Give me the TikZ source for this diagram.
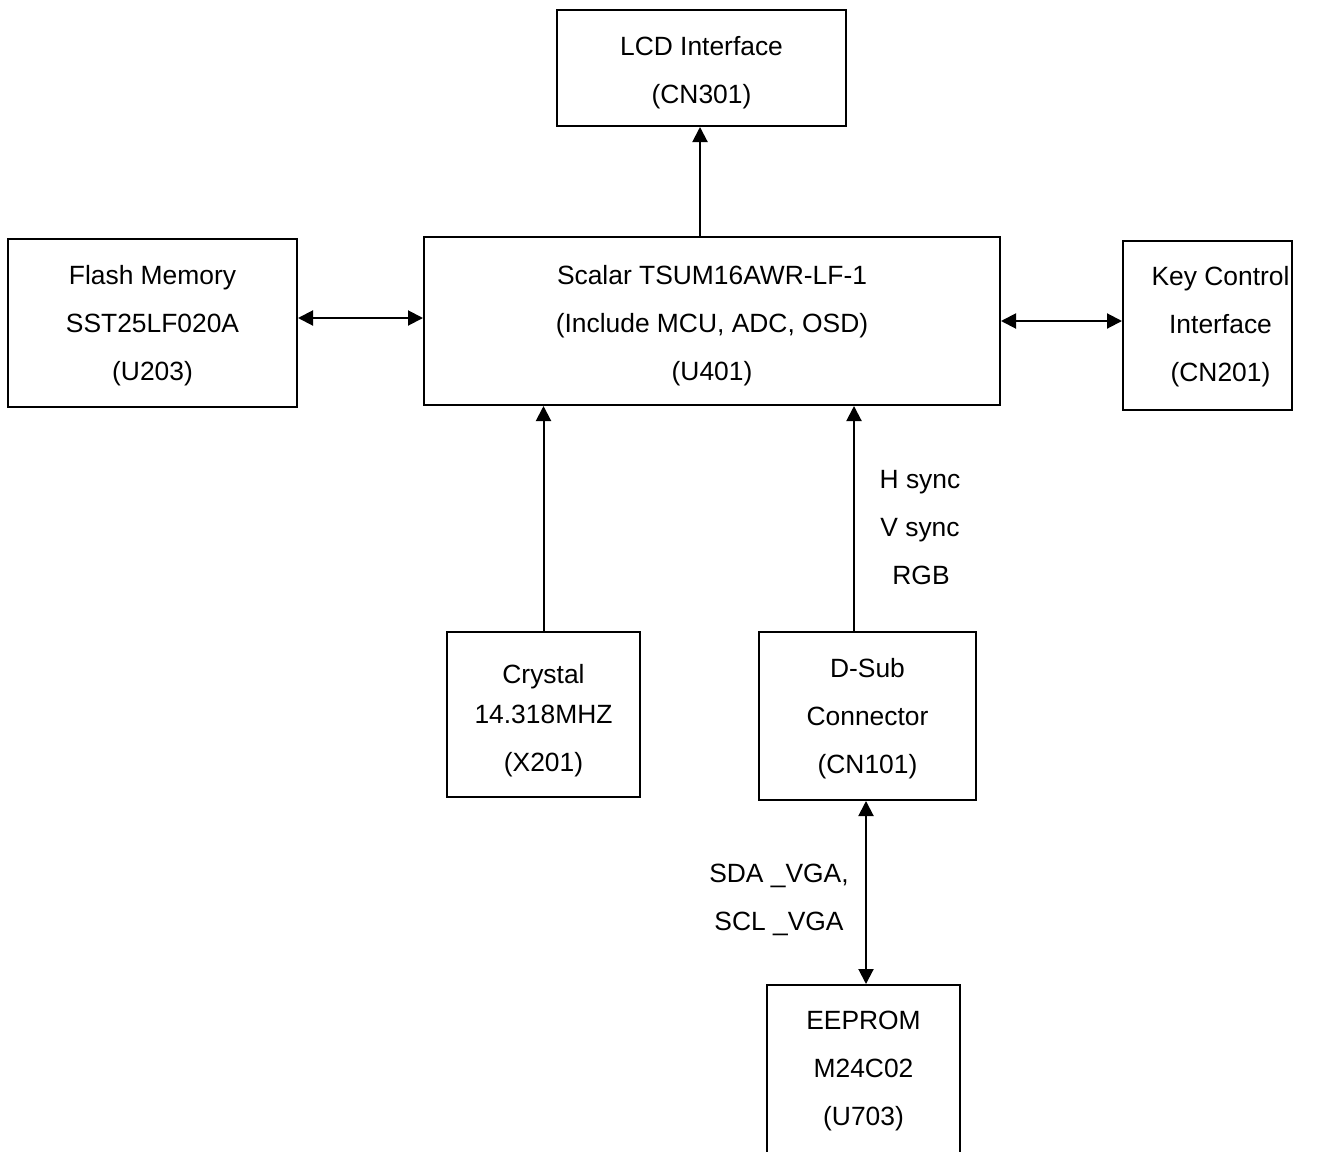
\documentclass[tikz,border=0pt]{standalone}
\usepackage{fontspec}
\setmainfont{Liberation Sans}
\usetikzlibrary{arrows.meta}
\begin{document}
\begin{tikzpicture}[x=1pt,y=-1pt,
  box/.style={draw, line width=2pt, inner sep=0pt},
  lbl/.style={inner sep=0pt, align=center, font=\fontsize{26.4}{48}\selectfont},
  arr/.style={line width=2pt, -{Triangle[length=15pt,width=15pt]}},
  darr/.style={line width=2pt, {Triangle[length=15pt,width=15pt]}-{Triangle[length=15pt,width=15pt]}}]
\useasboundingbox (0,0) rectangle (1321,1151);
\node[box, minimum width=289, minimum height=116] (lcd) at (701.5,68) {};
\node[lbl] (lcdtext) at (701.5,73) {LCD Interface\\(CN301)};
\node[box, minimum width=576, minimum height=168] (scalar) at (712,321) {};
\node[lbl] (scalartext) at (712,326) {Scalar TSUM16AWR-LF-1\\(Include MCU, ADC, OSD)\\(U401)};
\node[box, minimum width=289, minimum height=168] (flash) at (152.5,323) {};
\node[lbl] (flashtext) at (152.5,326) {Flash Memory\\SST25LF020A\\(U203)};
\node[box, minimum width=169, minimum height=169] (key) at (1207.5,325.5) {};
\node[lbl] (keytext) at (1220.5,327) {Key Control\\Interface\\(CN201)};
\node[box, minimum width=193, minimum height=165] (crystal) at (543.5,714.5) {};
\node[lbl] (crystaltext) at (543.5,720.5) {Crystal\\[-8pt]14.318MHZ\\(X201)};
\node[box, minimum width=217, minimum height=168] (dsub) at (867.5,716) {};
\node[lbl] (dsubtext) at (867.5,719) {D-Sub\\Connector\\(CN101)};
\node[box, minimum width=193, minimum height=190] (eeprom) at (863.5,1080) {};
\node[lbl] (eetext) at (863.5,1071) {EEPROM\\M24C02\\(U703)};
\node[lbl] (sync) at (920,528) {H sync\\V sync\\\hspace*{2pt}RGB};
\node[lbl] (sda) at (779,900) {SDA \_VGA,\\SCL \_VGA};
\draw[arr] (scalar.north -| lcd.south) ++(-1.5,0) coordinate (s1) -- (s1 |- lcd.south);
\draw[darr] ([yshift=5]flash.east) coordinate (f1) -- (f1 -| scalar.west);
\draw[darr] (scalar.east) -- (scalar.east -| key.west);
\draw[arr] (crystal.north) -- (crystal.north |- scalar.south);
\draw[arr] ([xshift=-13.5]dsub.north) coordinate (d1) -- (d1 |- scalar.south);
\draw[darr] ([xshift=2.5]eeprom.north) coordinate (e1) -- (e1 |- dsub.south);
\end{tikzpicture}
\end{document}
